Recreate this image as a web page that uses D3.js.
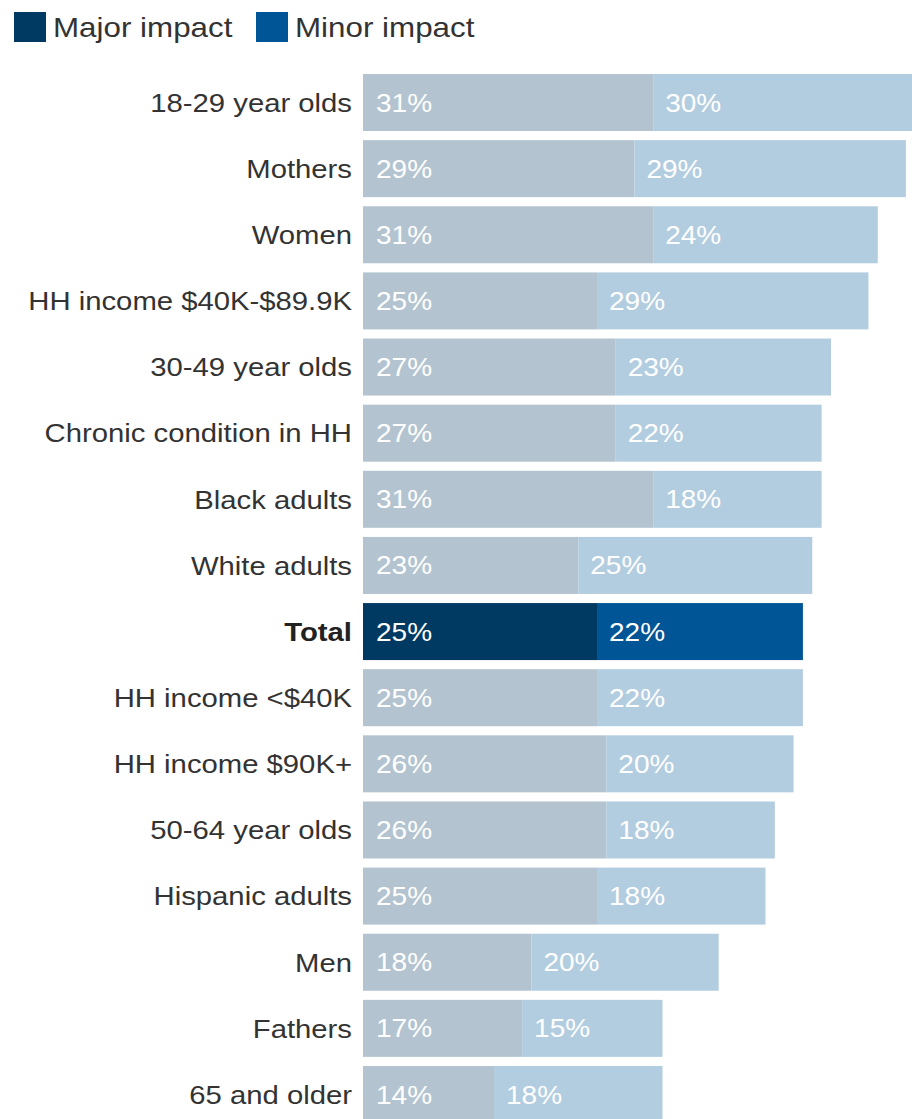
<!DOCTYPE html>
<html>
<head>
<meta charset="utf-8">
<script src="https://cdn.jsdelivr.net/npm/d3@7"></script>
<style>
  html, body { margin: 0; padding: 0; background: #fff; }
  svg { display: block; font-family: "Liberation Sans", Arial, Helvetica, sans-serif; }
</style>
</head>
<body>
<svg id="chart" width="912" height="1119"></svg>
<script>
// Share of adults reporting an impact, by group
const categories = [
  "18-29 year olds", "Mothers", "Women", "HH income $40K-$89.9K",
  "30-49 year olds", "Chronic condition in HH", "Black adults", "White adults",
  "Total", "HH income <$40K", "HH income $90K+", "50-64 year olds",
  "Hispanic adults", "Men", "Fathers", "65 and older"
];
const majorImpact = [31, 29, 31, 25, 27, 27, 31, 23, 25, 25, 26, 26, 25, 18, 17, 14];
const minorImpact = [30, 29, 24, 29, 23, 22, 18, 25, 22, 22, 20, 18, 18, 20, 15, 18];
const seriesNames = ["Major impact", "Minor impact"];
const highlight = "Total";

const colors = {
  major: "#b3c4d0",
  minor: "#b3cde0",
  majorHi: "#003a63",
  minorHi: "#005596",
  text: "#333333"
};

const svg = d3.select("#chart");

const x = d3.scaleLinear().domain([0, 100]).range([363, 363 + 936]);
const y = d3.scaleBand()
  .domain(categories)
  .range([74, 1123])
  .paddingInner(0.138)
  .paddingOuter(0);

const rows = categories.map((c, i) => ({
  cat: c,
  major: majorImpact[i],
  minor: minorImpact[i]
}));

// Legend
const legend = svg.append("g");
const legendItems = [
  { name: seriesNames[0], color: colors.majorHi, x: 14 },
  { name: seriesNames[1], color: colors.minorHi, x: 256 }
];
legendItems.forEach(it => {
  legend.append("rect")
    .attr("x", it.x).attr("y", 12)
    .attr("width", 32).attr("height", 30)
    .attr("fill", it.color);
  legend.append("text")
    .attr("transform", `translate(${it.x + 39},${27}) scale(1.12,1)`)
    .attr("dy", "0.35em")
    .attr("font-size", 28)
    .attr("fill", colors.text)
    .text(it.name);
});

// Bars
const g = svg.append("g");
const row = g.selectAll("g.row").data(rows).join("g").attr("class", "row");

row.append("rect")
  .attr("x", x(0))
  .attr("y", d => y(d.cat))
  .attr("width", d => x(d.major) - x(0))
  .attr("height", y.bandwidth())
  .attr("fill", d => d.cat === highlight ? colors.majorHi : colors.major);

row.append("rect")
  .attr("x", d => x(d.major))
  .attr("y", d => y(d.cat))
  .attr("width", d => x(d.major + d.minor) - x(d.major))
  .attr("height", y.bandwidth())
  .attr("fill", d => d.cat === highlight ? colors.minorHi : colors.minor);

// Value labels inside each segment
row.append("text")
  .attr("transform", d => `translate(${x(0) + 13},${y(d.cat) + y.bandwidth() / 2}) scale(1.12,1)`)
  .attr("dy", "0.36em")
  .attr("font-size", 25)
  .attr("fill", "#ffffff")
  .text(d => d.major + "%");

row.append("text")
  .attr("transform", d => `translate(${x(d.major) + 12},${y(d.cat) + y.bandwidth() / 2}) scale(1.12,1)`)
  .attr("dy", "0.36em")
  .attr("font-size", 25)
  .attr("fill", "#ffffff")
  .text(d => d.minor + "%");

// Category labels
row.append("text")
  .attr("transform", d => `translate(${x(0) - 11},${y(d.cat) + y.bandwidth() / 2}) scale(1.105,1)`)
  .attr("dy", "0.35em")
  .attr("text-anchor", "end")
  .attr("font-size", 26.5)
  .attr("font-weight", d => d.cat === highlight ? "bold" : "normal")
  .attr("fill", d => d.cat === highlight ? "#222222" : colors.text)
  .text(d => d.cat);
</script>
</body>
</html>
